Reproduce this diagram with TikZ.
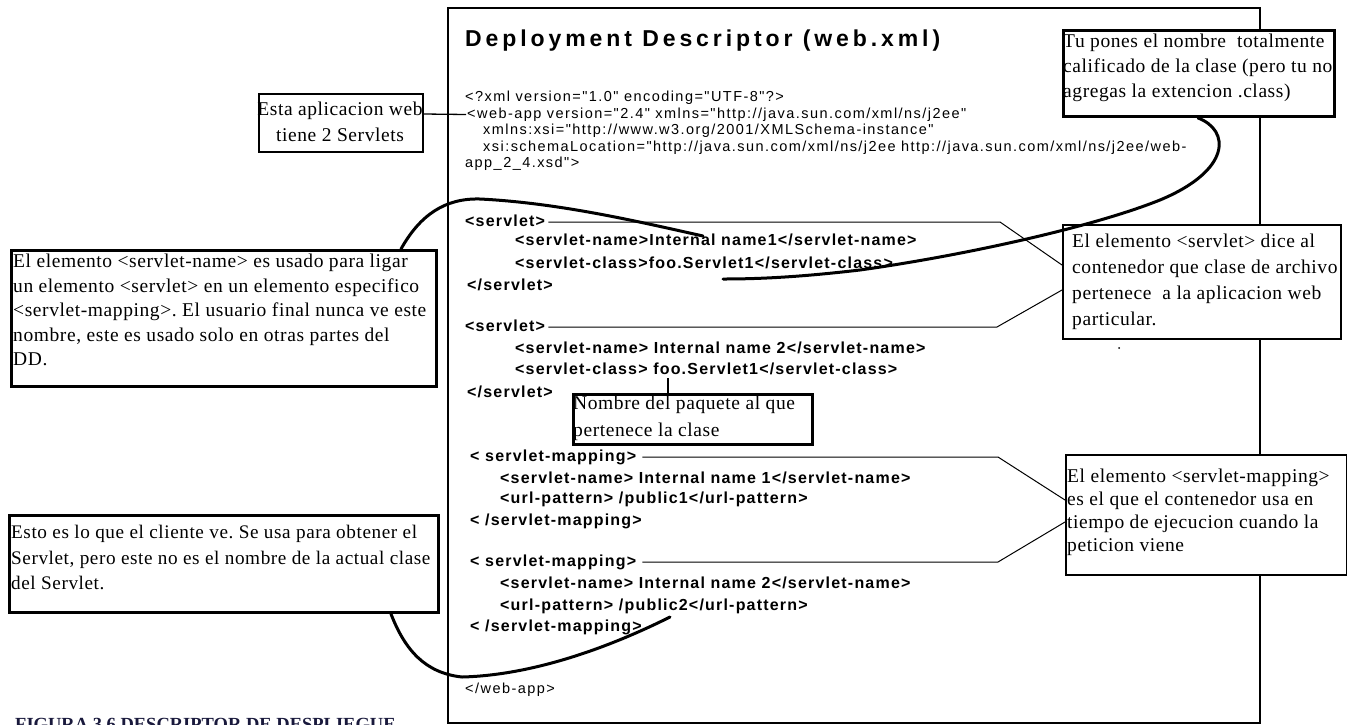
\documentclass[tikz,border=0pt]{standalone}
\usepackage{fontspec}
\setmainfont{Liberation Serif}
\newfontfamily\xmlfont[LetterSpace=10]{Liberation Sans}
\newfontfamily\xmlbfont[LetterSpace=7.5]{Liberation Sans}
\newfontfamily\ttlfont[LetterSpace=17]{Liberation Sans}
\newfontfamily\boxfont[LetterSpace=3]{Liberation Serif}
\newfontfamily\capfont{Liberation Serif}
\usetikzlibrary{calc}
\definecolor{capcol}{RGB}{25,25,60}
\frenchspacing
\begin{document}
\begin{tikzpicture}[x=1pt,y=-1pt,
  xml/.style={anchor=west,inner sep=0pt,font=\xmlfont\fontsize{14.5}{16}\selectfont,text height=10.5pt,text depth=3pt},
  xmlb/.style={anchor=west,inner sep=0pt,font=\xmlbfont\bfseries\fontsize{16}{18}\selectfont,text height=12pt,text depth=3.5pt},
  framebox/.style={draw,line width=1.5pt,inner sep=0pt,anchor=north west},
  thinbox/.style={draw,line width=1.5pt,fill=white,inner sep=0pt,anchor=north west},
  thickbox/.style={draw,line width=3pt,fill=white,inner sep=0pt,anchor=north west},
  boxtxt/.style 2 args={inner sep=0pt,align=left,anchor=north west,font=\boxfont\fontsize{#1}{#2}\selectfont},
  leader/.style={line width=1pt},
  pointer/.style={line width=3pt,line cap=round,line join=round}]
\useasboundingbox (0,0) rectangle (1347,724);
\clip (0,0) rectangle (1347,724);
% frame
\node[framebox,minimum width=812pt,minimum height=715pt] (frame) at (447,7) {};
\node[anchor=base west,inner sep=0pt,font=\ttlfont\bfseries\fontsize{23}{27}\selectfont] (title) at (465,46) {Deployment Descriptor (web.xml)};
% xml header
\node[xml] (x1) at (465,98) {<?xml version="1.0" encoding="UTF-8"?>};
\node[xml] (x2) at (467,114.5) {<web-app version="2.4" xmlns="http://java.sun.com/xml/ns/j2ee"};
\node[xml] (x3) at (483,131) {xmlns:xsi="http://www.w3.org/2001/XMLSchema-instance"};
\node[xml] (x4) at (483,147.5) {xsi:schemaLocation="http://java.sun.com/xml/ns/j2ee http://java.sun.com/xml/ns/j2ee/web-};
\node[xml] (x5) at (465,164) {app\_2\_4.xsd">};
% servlets
\node[xmlb] (s1) at (465,222) {<servlet>};
\node[xmlb] (s2) at (515,241) {<servlet-name>Internal name1</servlet-name>};
\node[xmlb] (s3) at (515,264) {<servlet-class>foo.Servlet1</servlet-class>};
\node[xmlb] (s4) at (467,286) {</servlet>};
\node[xmlb] (s5) at (465,327) {<servlet>};
\node[xmlb] (s6) at (515,349) {<servlet-name> Internal name 2</servlet-name>};
\node[xmlb] (s7) at (515,370) {<servlet-class> foo.Servlet1</servlet-class>};
\node[xmlb] (s8) at (467,393) {</servlet>};
% mappings
\node[xmlb] (m1) at (470,457) {< servlet-mapping>};
\node[xmlb] (m2) at (500,479) {<servlet-name> Internal name 1</servlet-name>};
\node[xmlb] (m3) at (500,499) {<url-pattern> /public1</url-pattern>};
\node[xmlb] (m4) at (470,521) {< /servlet-mapping>};
\node[xmlb] (m5) at (470,562) {< servlet-mapping>};
\node[xmlb] (m6) at (500,584) {<servlet-name> Internal name 2</servlet-name>};
\node[xmlb] (m7) at (500,606) {<url-pattern> /public2</url-pattern>};
\node[xmlb] (m8) at (470,627) {< /servlet-mapping>};
\node[xml] (x6) at (465,690) {</web-app>};
% boxes
\node[thickbox,minimum width=271pt,minimum height=86pt] (boxA) at (1062,29) {};
\node[thinbox,minimum width=278pt,minimum height=114pt] (boxB) at (1062,224) {};
\node[thinbox,minimum width=281pt,minimum height=120pt] (boxC) at (1065,454) {};
\node[thinbox,line width=2pt,minimum width=164pt,minimum height=58pt] (boxD) at (258,93) {};
\node[thickbox,minimum width=425pt,minimum height=136pt] (boxE) at (10,249) {};
\node[thickbox,minimum width=429pt,minimum height=97pt] (boxF) at (8,514) {};
\node[thickbox,line width=2.7pt,minimum width=239pt,minimum height=50pt] (boxG) at (572,393) {};
% leaders
\coordinate (kB1) at (1000,222);
\coordinate (kB2) at (997,327);
\coordinate (kC1) at (998,457);
\coordinate (kC2) at (998,562);
\draw[leader] ([xshift=3pt]s1.east) -- (s1.east -| kB1) -- ($(boxB.north west)+(0,41)$);
\draw[leader] ([xshift=3pt]s5.east) -- (s5.east -| kB2) -- ($(boxB.north west)+(0,66)$);
\draw[leader] ([xshift=6pt]m1.east) -- (m1.east -| kC1) -- ($(boxC.north west)+(0,46)$);
\draw[leader] ([xshift=6pt]m5.east) -- (m5.east -| kC2) -- ($(boxC.north west)+(0,68)$);
\draw[leader,line width=1.3pt] ($(boxD.north east)+(0,21)$) -- ([xshift=-1pt]x2.west);
% box texts
\node[boxtxt={19.5}{25}] (tA) at (1063,32.5) {\rule{0pt}{15pt}Tu pones el nombre~ totalmente\\calificado de la clase (pero tu no\\agregas la extencion .class)};
\node[boxtxt={19.5}{26}] (tB) at (1072,232.5) {\rule{0pt}{15pt}El elemento <servlet> dice al\\contenedor que clase de archivo\\pertenece~ a la aplicacion web\\particular.};
\node[boxtxt={19.5}{23}] (tC) at (1067,467.5) {\rule{0pt}{15pt}El elemento <servlet-mapping>\\es el que el contenedor usa en\\tiempo de ejecucion cuando la\\peticion viene};
\node[boxtxt={19.5}{26},align=center,anchor=north] (tD) at (340,100.5) {\rule{0pt}{15pt}Esta aplicacion web\\tiene 2 Servlets};
\node[boxtxt={19.5}{24.5}] (tE) at (13,252.5) {\rule{0pt}{15pt}El elemento <servlet-name> es usado para ligar\\un elemento <servlet> en un elemento especifico\\<servlet-mapping>. El usuario final nunca ve este\\nombre, este es usado solo en otras partes del\\DD.};
\node[boxtxt={19.2}{25.5}] (tF) at (11,523.5) {\rule{0pt}{15pt}Esto es lo que el cliente ve. Se usa para obtener el\\Servlet, pero este no es el nombre de la actual clase\\del Servlet.};
\node[boxtxt={19.5}{27}] (tG) at (573,394) {\rule{0pt}{15pt}Nombre del paquete al que\\pertenece la clase};
\fill (1119,348) circle (1);
% pointers
\coordinate (e1) at (703,236);
\coordinate (e2) at (723,279);
\coordinate (e3) at (670,617);
\coordinate (eG) at (668,378);
\draw[line width=2.5pt] ([xshift=96pt]boxG.north west) -- (eG);
\draw[pointer] ([xshift=-37pt]boxE.north east) .. controls (420,215) and (445,198) .. (480,199) .. controls (560,203) and (640,222) .. (e1);
\draw[pointer] ([xshift=136pt]boxA.south west) .. controls (1230,130) and (1232,170) .. (1160,200) .. controls (1090,228) and (960,256) .. (860,270) .. controls (800,277) and (760,279) .. (e2);
\draw[pointer] ([xshift=-49pt]boxF.south east) .. controls (405,650) and (425,673) .. (462,677) .. controls (540,675) and (620,642) .. (e3);
% caption
\node[anchor=base west,inner sep=0pt,font=\capfont\bfseries\fontsize{18.5}{20}\selectfont,text=capcol] (cap) at (15,730) {FIGURA 3.6 DESCRIPTOR DE DESPLIEGUE};
\end{tikzpicture}
\end{document}
